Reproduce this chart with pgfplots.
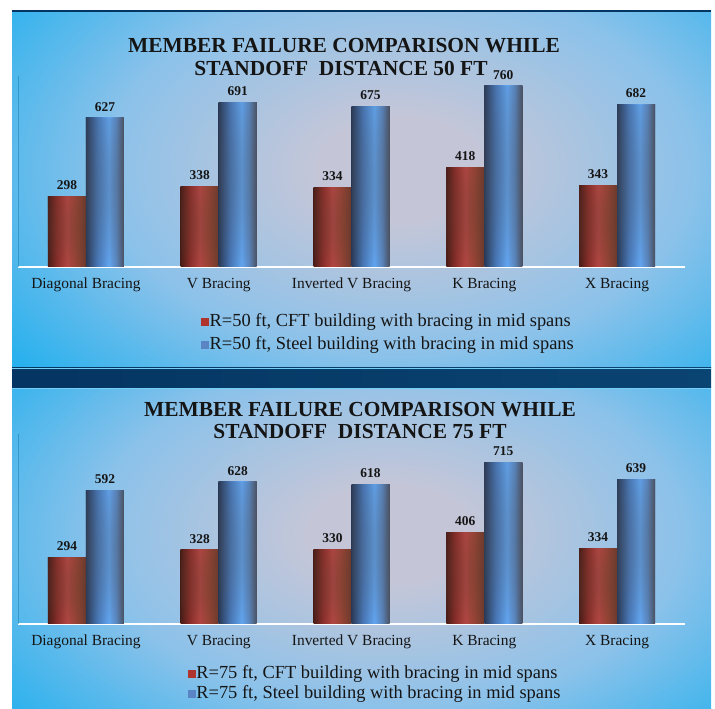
\documentclass[border=0pt]{standalone}
\usepackage{pgfplots}
\pgfplotsset{compat=1.18}
\usetikzlibrary{fadings}
\usepackage{fontspec}
\setmainfont{Liberation Serif}

\definecolor{bgO}{HTML}{18AEEE}
\definecolor{bgM}{HTML}{8CC2EA}
\definecolor{bgC}{HTML}{C4C6D8}
\definecolor{bandA}{HTML}{053562}
\definecolor{bandB}{HTML}{0A4472}
\definecolor{r0}{HTML}{4A1C18}
\definecolor{r1}{HTML}{8C2E2A}
\definecolor{r2}{HTML}{B44644}
\definecolor{r3}{HTML}{9A4436}
\definecolor{r4}{HTML}{6E3A2C}
\definecolor{b0}{HTML}{2A3A58}
\definecolor{b1}{HTML}{4878B8}
\definecolor{b2}{HTML}{62A6F2}
\definecolor{b3}{HTML}{5A86BE}
\definecolor{b4}{HTML}{4A5060}
\definecolor{rtop}{HTML}{5A4030}
\definecolor{btop}{HTML}{4C5058}
\definecolor{legred}{HTML}{B0342E}
\definecolor{legblue}{HTML}{5A84C4}
\definecolor{txt}{HTML}{151515}

% path bounding box maps to 25bp..75bp of the shading
\pgfdeclarehorizontalshading{redbar}{100bp}{color(0bp)=(r0); color(25bp)=(r0); color(37bp)=(r1); color(50bp)=(r2); color(61bp)=(r3); color(75bp)=(r4); color(100bp)=(r4)}
\pgfdeclarehorizontalshading{bluebar}{100bp}{color(0bp)=(b0); color(25bp)=(b0); color(40bp)=(b1); color(55bp)=(b2); color(65bp)=(b3); color(75bp)=(b4); color(100bp)=(b4)}
\pgfdeclareradialshading{bgrad}{\pgfpoint{0bp}{0bp}}{color(0bp)=(bgC); color(4bp)=(bgC); color(14bp)=(bgM); color(25bp)=(bgO); color(50bp)=(bgO)}
\tikzfading[name=topdark, top color=transparent!10, middle color=transparent!100, bottom color=transparent!100]

\pgfplotsset{
  panel/.style={
    scale only axis,
    width=667bp,
    xmin=-0.512, xmax=4.512, ymin=0,
    axis x line*=bottom, axis y line*=left,
    axis line style={-},
    x axis line style={white, line width=1.3bp},
    y axis line style={color=bgO!70!black, line width=0.6bp, opacity=0.5},
    ytick=\empty,
    xtick={0,1,2,3,4},
    xticklabels={Diagonal Bracing, V Bracing, Inverted V Bracing, K Bracing, X Bracing},
    major tick length=0pt,
    xticklabel style={font=\fontsize{15.5}{16}\selectfont, text=txt, inner sep=0pt, yshift=-11bp},
    /pgf/number format/assume math mode=true,
    legend cell align=left,
    legend style={draw=none, fill=none, anchor=north west,
      font=\fontsize{18.5}{20}\selectfont,
      nodes={text height=13bp, text depth=4bp, inner sep=1bp, text=txt}},
  },
  barbase/.style={ybar, bar width=38bp, draw=none, forget plot,
    nodes near coords,
    nodes near coords style={font=\bfseries\fontsize{13.5}{14}\selectfont, text=txt, yshift=3bp}},
  rb/.style={barbase, bar shift=-19bp, shading=redbar,
    postaction={fill=rtop, path fading=topdark},
    nodes near coords style={xshift=-19bp}},
  bb/.style={barbase, bar shift=19bp, shading=bluebar,
    postaction={fill=btop, path fading=topdark},
    nodes near coords style={xshift=19bp}},
}

\begin{document}
\begin{tikzpicture}
\begin{scope}[x=1bp,y=1bp]
\path[use as bounding box] (0,0) rectangle (715,709);
% panel 1 background
\begin{scope}
\clip (12,341) rectangle (711,698);
\fill[bgO] (12,341) rectangle (711,698);
\shade[shading=bgrad] (400,540) ellipse (520 and 330);
\end{scope}
% panel 2 background
\begin{scope}
\clip (12,0) rectangle (711,321);
\fill[bgO] (12,0) rectangle (711,321);
\shade[shading=bgrad] (390,175) ellipse (520 and 310);
\end{scope}
% dark band
\shade[left color=bandA, right color=bandB] (12,321) rectangle (711,341);
\draw[bgO!60!white, line width=0.6] (12,341) -- (711,341);
\draw[bgO!60!white, line width=0.6] (12,321) -- (711,321);
\draw[bandA, line width=1.5] (12,698) -- (711,698);
% titles
\node[font=\bfseries\fontsize{21.5}{22}\selectfont, text=txt] at (344,663) {MEMBER FAILURE COMPARISON WHILE};
\node[font=\bfseries\fontsize{21.5}{22}\selectfont, text=txt] at (341,641) {STANDOFF\ \ DISTANCE 50 FT};
\node[font=\bfseries\fontsize{21.5}{22}\selectfont, text=txt] at (360,299) {MEMBER FAILURE COMPARISON WHILE};
\node[font=\bfseries\fontsize{21.5}{22}\selectfont, text=txt] at (360,277) {STANDOFF\ \ DISTANCE 75 FT};
\end{scope}

\begin{axis}[panel, at={(18bp,442bp)}, anchor=south west,
  height=191bp, ymax=802,
  legend style={at={(0.27,-0.225)}, row sep=4bp}]
% R=50 ft, CFT building
\addplot[rb] coordinates {(0,298)};
\addplot[rb] coordinates {(1,338)};
\addplot[rb] coordinates {(2,334)};
\addplot[rb] coordinates {(3,418)};
\addplot[rb] coordinates {(4,343)};
% R=50 ft, Steel building
\addplot[bb] coordinates {(0,627)};
\addplot[bb] coordinates {(1,691)};
\addplot[bb] coordinates {(2,675)};
\addplot[bb] coordinates {(3,760)};
\addplot[bb] coordinates {(4,682)};
\addlegendimage{legend image code/.code={\fill[legred] (0bp,-3.5bp) rectangle (7bp,3.5bp);}}
\addlegendentry{R=50 ft, CFT building with bracing in mid spans}
\addlegendimage{legend image code/.code={\fill[legblue] (0bp,-3.5bp) rectangle (7bp,3.5bp);}}
\addlegendentry{R=50 ft, Steel building with bracing in mid spans}
\end{axis}

\begin{axis}[panel, at={(18bp,85bp)}, anchor=south west,
  height=190bp, ymax=840,
  legend style={at={(0.25,-0.2)}, row sep=1bp}]
% R=75 ft, CFT building
\addplot[rb] coordinates {(0,294)};
\addplot[rb] coordinates {(1,328)};
\addplot[rb] coordinates {(2,330)};
\addplot[rb] coordinates {(3,406)};
\addplot[rb] coordinates {(4,334)};
% R=75 ft, Steel building
\addplot[bb] coordinates {(0,592)};
\addplot[bb] coordinates {(1,628)};
\addplot[bb] coordinates {(2,618)};
\addplot[bb] coordinates {(3,715)};
\addplot[bb] coordinates {(4,639)};
\addlegendimage{legend image code/.code={\fill[legred] (0bp,-3.5bp) rectangle (7bp,3.5bp);}}
\addlegendentry{R=75 ft, CFT building with bracing in mid spans}
\addlegendimage{legend image code/.code={\fill[legblue] (0bp,-3.5bp) rectangle (7bp,3.5bp);}}
\addlegendentry{R=75 ft, Steel building with bracing in mid spans}
\end{axis}
\end{tikzpicture}
\end{document}
